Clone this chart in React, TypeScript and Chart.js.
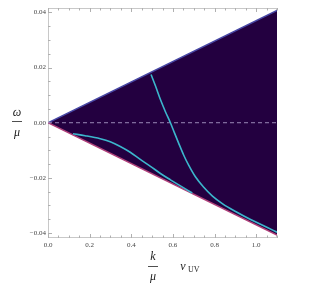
import React, { useEffect, useRef } from "react";
import { Chart, registerables } from "chart.js";

Chart.register(...registerables);

const xMin = 0;
const xMax = 1.1;
const yMin = -0.0418;
const yMax = 0.0416;

const xTickValues = [0, 0.2, 0.4, 0.6, 0.8, 1.0];
const xTickLabels = ["0.0", "0.2", "0.4", "0.6", "0.8", "1.0"];
const yTickValues = [-0.04, -0.02, 0, 0.02, 0.04];
const yTickLabels = ["\u22120.04", "\u22120.02", "0.00", "0.02", "0.04"];

// wedge boundaries
const wedgeX = [0, 1.1];
const wedgeTop = [0, 0.0407];
const wedgeBottom = [0, -0.0407];

// curve 1
const c1X = [0.495, 0.516, 0.54, 0.564, 0.588, 0.607, 0.627, 0.651, 0.675, 0.708, 0.747, 0.79, 0.839, 0.901, 0.973, 1.046, 1.1];
const c1Y = [0.0175, 0.0134, 0.0084, 0.004, 0, -0.0036, -0.0073, -0.0116, -0.0153, -0.0196, -0.0233, -0.0266, -0.0294, -0.0322, -0.0351, -0.0377, -0.0397];

// curve 2
const c2X = [0.12, 0.178, 0.251, 0.299, 0.347, 0.395, 0.443, 0.492, 0.54, 0.588, 0.636, 0.693];
const c2Y = [-0.004, -0.0047, -0.0058, -0.0069, -0.0086, -0.0107, -0.0133, -0.0158, -0.0184, -0.0207, -0.0229, -0.0255];

const zip = (xs: number[], ys: number[]) => xs.map((x, i) => ({ x, y: ys[i] }));

export default function App() {
  const ref = useRef<HTMLCanvasElement | null>(null);
  useEffect(() => {
    document.body.style.margin = "0";
    const canvas = ref.current!;
    const framePlugin = {
      id: "frameTicks",
      beforeDatasetsDraw(chart: any) {
        const { ctx, chartArea: a, scales } = chart;
        const xs = scales.x, ys = scales.y;
        ctx.save();
        ctx.strokeStyle = "#c8c8c8";
        ctx.lineWidth = 1;
        ctx.strokeRect(a.left + 0.5, a.top + 0.5, a.right - a.left - 1, a.bottom - a.top - 1);
        ctx.strokeStyle = "#b0b0b0";
        ctx.beginPath();
        for (let i = 0; i <= 22; i++) {
          const v = i * 0.05;
          const px = Math.round(xs.getPixelForValue(v)) + 0.5;
          const len = i % 4 === 0 ? 4 : 2.5;
          ctx.moveTo(px, a.bottom);
          ctx.lineTo(px, a.bottom - len);
          ctx.moveTo(px, a.top);
          ctx.lineTo(px, a.top + len);
        }
        for (let i = -8; i <= 8; i++) {
          const v = i * 0.005;
          const py = Math.round(ys.getPixelForValue(v)) + 0.5;
          const len = i % 4 === 0 ? 4 : 2.5;
          ctx.moveTo(a.left, py);
          ctx.lineTo(a.left + len, py);
          ctx.moveTo(a.right, py);
          ctx.lineTo(a.right - len, py);
        }
        ctx.stroke();
        ctx.restore();
      },
      afterDraw(chart: any) {
        const { ctx } = chart;
        ctx.save();
        ctx.fillStyle = "#222";
        ctx.strokeStyle = "#222";
        ctx.lineWidth = 0.8;
        ctx.textAlign = "center";
        ctx.textBaseline = "middle";
        ctx.font = "italic 12px 'Liberation Serif'";
        ctx.fillText("\u03c9", 17, 113);
        ctx.fillText("\u03bc", 17, 133);
        ctx.beginPath();
        ctx.moveTo(12, 121.5);
        ctx.lineTo(22, 121.5);
        ctx.stroke();
        ctx.fillText("k", 153, 257);
        ctx.fillText("\u03bc", 153, 277);
        ctx.beginPath();
        ctx.moveTo(148, 266.5);
        ctx.lineTo(158, 266.5);
        ctx.stroke();
        ctx.fillText("\u03bd", 183, 267);
        ctx.font = "8px 'Liberation Serif'";
        ctx.textAlign = "left";
        ctx.fillText("UV", 188, 270);
        ctx.restore();
      },
    };
    const chart = new Chart(canvas, {
      type: "line",
      data: {
        datasets: [
          {
            data: zip(wedgeX, wedgeTop),
            borderColor: "#4848a6",
            borderWidth: 1.5,
            backgroundColor: "#230040",
            fill: "+1",
            pointRadius: 0,
            order: 10,
          },
          {
            data: zip(wedgeX, wedgeBottom),
            borderColor: "#b0407a",
            borderWidth: 1.5,
            fill: false,
            pointRadius: 0,
            order: 9,
          },
          {
            data: zip([xMin, xMax], [0, 0]),
            borderColor: "rgba(175,160,205,0.85)",
            borderWidth: 1,
            borderDash: [4, 3],
            fill: false,
            pointRadius: 0,
            order: 5,
          },
          {
            data: zip(c1X, c1Y),
            borderColor: "#3cb6cc",
            borderWidth: 1.6,
            fill: false,
            pointRadius: 0,
            cubicInterpolationMode: "monotone",
            order: 1,
          },
          {
            data: zip(c2X, c2Y),
            borderColor: "#3cb6cc",
            borderWidth: 1.6,
            fill: false,
            pointRadius: 0,
            cubicInterpolationMode: "monotone",
            order: 1,
          },
        ],
      },
      options: {
        animation: false,
        responsive: false,
        maintainAspectRatio: false,
        layout: { padding: { left: 0, top: 8, right: 38, bottom: 0 } },
        plugins: { legend: { display: false }, tooltip: { enabled: false } },
        scales: {
          x: {
            type: "linear",
            min: xMin,
            max: xMax,
            grid: { display: false, drawTicks: false },
            border: { display: false },
            afterBuildTicks: (s: any) => {
              s.ticks = xTickValues.map((v) => ({ value: v }));
            },
            afterFit: (s: any) => {
              s.height = 53;
            },
            ticks: {
              padding: 3,
              maxRotation: 0,
              autoSkip: false,
              color: "#444",
              font: { family: "'Liberation Serif'", size: 7 },
              callback: (v: any) => {
                const i = xTickValues.findIndex((t) => Math.abs(t - v) < 1e-9);
                return i >= 0 ? xTickLabels[i] : "";
              },
            },
          },
          y: {
            type: "linear",
            min: yMin,
            max: yMax,
            grid: { display: false, drawTicks: false },
            border: { display: false },
            afterBuildTicks: (s: any) => {
              s.ticks = yTickValues.map((v) => ({ value: v }));
            },
            afterFit: (s: any) => {
              s.width = 48;
            },
            ticks: {
              padding: 2,
              autoSkip: false,
              color: "#444",
              font: { family: "'Liberation Serif'", size: 7 },
              callback: (v: any) => {
                const i = yTickValues.findIndex((t) => Math.abs(t - v) < 1e-9);
                return i >= 0 ? yTickLabels[i] : "";
              },
            },
          },
        },
      },
      plugins: [framePlugin],
    } as any);
    return () => chart.destroy();
  }, []);
  return (
    <div style={{ width: 315, height: 291 }}>
      <canvas ref={ref} width={315} height={291} style={{ display: "block" }} />
    </div>
  );
}
